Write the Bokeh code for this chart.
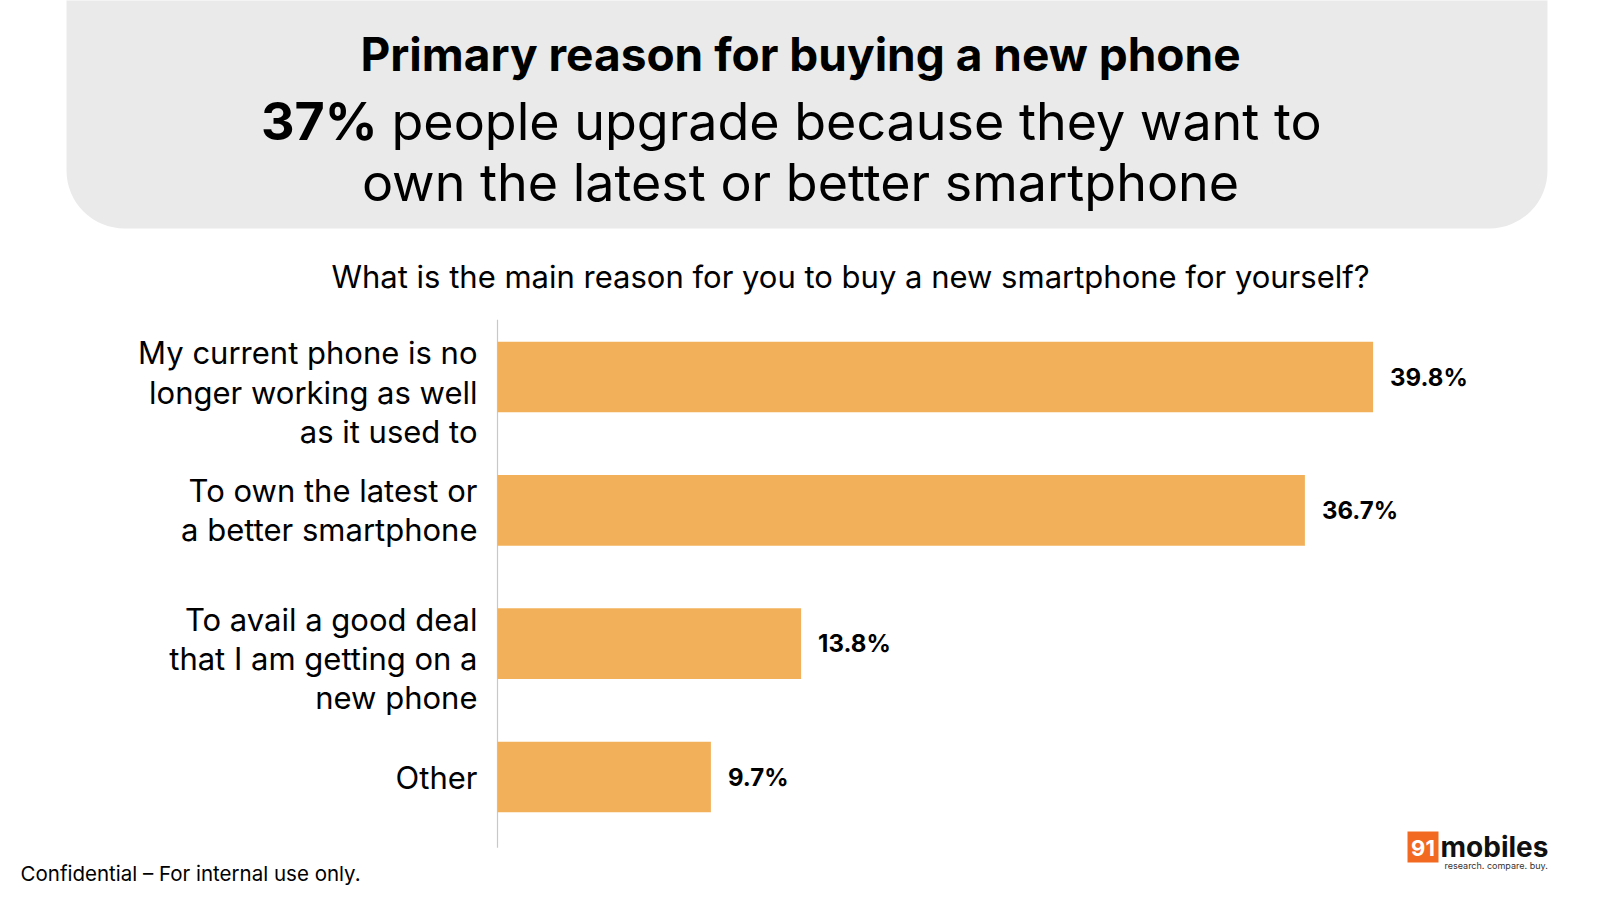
from bokeh.plotting import figure
from bokeh.models import Range1d
from bokeh.core.properties import value
from bokeh.embed import file_html
from bokeh.resources import INLINE

# ---------------- data ----------------
categories = [
    "My current phone is no\nlonger working as well\nas it used to",
    "To own the latest or\na better smartphone",
    "To avail a good deal\nthat I am getting on a\nnew phone",
    "Other",
]
shares = [39.8, 36.7, 13.8, 9.7]
share_labels = ["39.8%", "36.7%", "13.8%", "9.7%"]

title = "Primary reason for buying a new phone"
headline_bold = "37%"
headline_rest = "people upgrade because they want to"
headline_line2 = "own the latest or better smartphone"
question = "What is the main reason for you to buy a new smartphone for yourself?"
footer = "Confidential \u2013 For internal use only."
logo_num = "91"
logo_word = "mobiles"
logo_tag = "research. compare. buy."

# ---------------- layout ----------------
W, H = 1600, 900
FONT = value("Inter")
ZERO_PX = 497          # pixel of the value axis origin
PX_PER_PCT = 22.0      # horizontal scale
ROW_PX = 133.33        # distance between bar centres
BOTTOM_CENTER_PX = 776.5
n = len(categories)

x_start = -ZERO_PX / PX_PER_PCT
x_end = (W - ZERO_PX) / PX_PER_PCT
y_start = -(H - BOTTOM_CENTER_PX) / ROW_PX
y_end = y_start + H / ROW_PX

p = figure(width=W, height=H, output_backend="svg", toolbar_location=None,
           x_range=Range1d(x_start, x_end), y_range=Range1d(y_start, y_end),
           x_axis_location=None, y_axis_location=None, min_border=0,
           background_fill_color="white", border_fill_color="white")
p.grid.visible = False
p.outline_line_color = None
p.extra_x_ranges = {"px": Range1d(0, W)}
p.extra_y_ranges = {"px": Range1d(H, 0)}
PX = dict(x_range_name="px", y_range_name="px")

# header panel
p.quad(left=66, right=1547, top=-100, bottom=228, border_radius=58,
       fill_color="#EAEAEA", line_color=None, **PX)

p.text(x=[800], y=[53], text=[title], text_font=FONT, text_font_style="bold",
       text_font_size="46px", text_align="center", text_baseline="middle",
       text_color="#000000", **PX)
p.text(x=[377], y=[121], text=[headline_bold], text_font=FONT, text_font_style="bold",
       text_font_size="52px", text_align="right", text_baseline="middle",
       text_color="#000000", **PX)
p.text(x=[391], y=[121], text=[headline_rest], text_font=FONT,
       text_font_size="52px", text_align="left", text_baseline="middle",
       text_color="#000000", **PX)
p.text(x=[800], y=[182], text=[headline_line2], text_font=FONT,
       text_font_size="52px", text_align="center", text_baseline="middle",
       text_color="#000000", **PX)

p.text(x=[850], y=[276], text=[question], text_font=FONT,
       text_font_size="31px", text_align="center", text_baseline="middle",
       text_color="#000000", **PX)

# bars
ypos = [n - 1 - i for i in range(n)]
p.segment(x0=[0], x1=[0], y0=[-0.53], y1=[n - 1 + 0.43], line_color="#C8C8C8", line_width=1.2)
p.hbar(y=ypos, left=0, right=shares, height=0.53, fill_color="#F3B05A", line_color=None)

p.text(x=shares, y=ypos, text=share_labels, x_offset=17, text_font=FONT,
       text_font_style="bold", text_font_size="24px", text_align="left",
       text_baseline="middle", text_color="#000000")

label_offsets = [15 if c.count("\n") >= 2 else 0 for c in categories]
p.text(x=[0] * n, y=ypos, text=categories, x_offset=-20, y_offset=label_offsets,
       text_font=FONT, text_font_size="31px", text_align="right",
       text_baseline="middle", text_line_height=1.06, text_color="#000000")

# footer
p.text(x=[20], y=[873], text=[footer], text_font=FONT, text_font_size="20.5px",
       text_align="left", text_baseline="middle", text_color="#000000", **PX)

# logo
p.quad(left=1407, right=1438, top=831, bottom=862, fill_color="#F26A21", line_color=None, **PX)
p.text(x=[1422.5], y=[847], text=[logo_num], text_font=FONT, text_font_style="bold",
       text_font_size="22px", text_align="center", text_baseline="middle",
       text_color="white", **PX)
p.text(x=[1440], y=[846], text=[logo_word], text_font=FONT, text_font_style="bold",
       text_font_size="28px", text_align="left", text_baseline="middle",
       text_color="#111111", **PX)
p.text(x=[1444], y=[865], text=[logo_tag], text_font=FONT, text_font_size="9px",
       text_align="left", text_baseline="middle", text_color="#333333", **PX)

open("out.html", "w").write(file_html(p, INLINE))
